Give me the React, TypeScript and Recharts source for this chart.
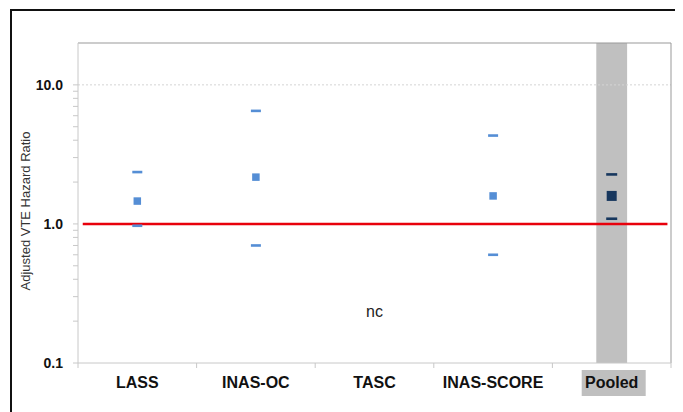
import React from 'react';
import { ComposedChart, Scatter, XAxis, YAxis, ReferenceLine, ReferenceArea } from 'recharts';

const categories = ['LASS', 'INAS-OC', 'TASC', 'INAS-SCORE', 'Pooled'];
const categoryPos = [0.5, 1.5, 2.5, 3.5, 4.5];
const pointHR: (number | null)[] = [1.46, 2.17, null, 1.59, 1.59];
const upperCI: (number | null)[] = [2.36, 6.5, null, 4.32, 2.27];
const lowerCI: (number | null)[] = [0.97, 0.7, null, 0.6, 1.09];
const pooledFlags = [false, false, false, false, true];
const notComputedLabels = [{ category: 'TASC', text: 'nc', y: 0.235 }];
const yMajorTicks = [0.1, 1, 10];
const yMinorTicks = [0.2, 0.3, 0.4, 0.5, 0.6, 0.7, 0.8, 0.9, 2, 3, 4, 5, 6, 7, 8, 9];
const xTicks = [0, 0.5, 1, 1.5, 2, 2.5, 3, 3.5, 4, 4.5, 5];
const yDomain = [0.1, 20];
const referenceHR = 1;
const gridHR = 10;
const pooledBand = [4.37, 4.63];

const FONT = '"Liberation Sans", Arial, sans-serif';
const BLUE = '#558ED5';
const NAVY = '#17375E';

const build = (vals: (number | null)[]) =>
  categories
    .map((c, i) => ({ name: c, x: categoryPos[i], y: vals[i], pooled: pooledFlags[i] }))
    .filter((d) => d.y != null);

const pointData = build(pointHR);
const upperData = build(upperCI);
const lowerData = build(lowerCI);
const ncData = notComputedLabels.map((n) => ({
  x: categoryPos[categories.indexOf(n.category)],
  y: n.y,
  text: n.text,
}));

const SquareShape = (props: any) => {
  const { cx, cy, payload } = props;
  if (cx == null || cy == null) return <g />;
  const s = payload && payload.pooled ? 10 : 7.5;
  return <rect x={cx - s / 2} y={cy - s / 2} width={s} height={s} fill={payload && payload.pooled ? NAVY : BLUE} />;
};

const DashShape = (props: any) => {
  const { cx, cy, payload } = props;
  if (cx == null || cy == null) return <g />;
  const w = payload && payload.pooled ? 11 : 10;
  return <rect x={cx - w / 2} y={cy - 1.3} width={w} height={2.6} fill={payload && payload.pooled ? NAVY : BLUE} />;
};

const TextShape = (props: any) => {
  const { cx, cy, payload } = props;
  if (cx == null || cy == null) return <g />;
  return (
    <text x={cx} y={cy} textAnchor="middle" dominantBaseline="central" fontFamily={FONT} fontSize={16} fill="#222">
      {payload.text}
    </text>
  );
};

const YTick = (props: any) => {
  const { x, y, payload } = props;
  const v = payload.value;
  const major = yMajorTicks.includes(v);
  return (
    <g>
      <line x1={x - 5} x2={x} y1={y} y2={y} stroke="#c8c8c8" />
      {major && (
        <text x={x - 15} y={y} textAnchor="end" dominantBaseline="central" fontFamily={FONT} fontSize={14} fontWeight="bold" fill="#111">
          {v.toFixed(1)}
        </text>
      )}
    </g>
  );
};

const XTick = (props: any) => {
  const { x, y, payload } = props;
  const v = payload.value;
  if (Number.isInteger(v)) {
    return <line x1={x} x2={x} y1={y} y2={y + 5} stroke="#c8c8c8" />;
  }
  const idx = categoryPos.indexOf(v);
  if (idx < 0) return <g />;
  return (
    <g>
      {pooledFlags[idx] && <rect x={x - 30} y={y + 7} width={64} height={26} fill="#BFBFBF" />}
      <text x={x} y={y + 19} textAnchor="middle" dominantBaseline="central" fontFamily={FONT} fontSize={16} fontWeight="bold" fill="#111">
        {categories[idx]}
      </text>
    </g>
  );
};

const YTitle = (props: any) => {
  const vb = props.viewBox || { x: 0, y: 35, width: 70, height: 320 };
  const cx = vb.x + 17;
  const cy = vb.y + vb.height / 2 + 8;
  return (
    <text x={cx} y={cy} transform={`rotate(-90, ${cx}, ${cy})`} textAnchor="middle" dominantBaseline="central" fontFamily={FONT} fontSize={13} fill="#333">
      Adjusted VTE Hazard Ratio
    </text>
  );
};

export default function App() {
  return (
    <div style={{ position: 'relative', width: 675, height: 404, overflow: 'hidden' }}>
      <ComposedChart width={675} height={404} margin={{ top: 35, right: 12, bottom: 9, left: 0 }}>
        <XAxis
          dataKey="x"
          type="number"
          domain={[0, 5]}
          ticks={xTicks}
          interval={0}
          tickLine={false}
          tickSize={0}
          tickMargin={0}
          axisLine={{ stroke: '#c8c8c8' }}
          tick={<XTick />}
          height={40}
        />
        <YAxis
          dataKey="y"
          type="number"
          scale="log"
          domain={yDomain}
          allowDataOverflow
          ticks={[...yMajorTicks, ...yMinorTicks]}
          interval={0}
          tickLine={false}
          tickSize={0}
          tickMargin={0}
          axisLine={{ stroke: '#c8c8c8' }}
          tick={<YTick />}
          width={70}
          label={<YTitle />}
        />
        <ReferenceArea x1={pooledBand[0]} x2={pooledBand[1]} fill="#C0C0C0" fillOpacity={1} stroke="none" />
        <ReferenceLine y={gridHR} stroke="#d4d4d4" strokeDasharray="2 2" />
        <ReferenceLine y={yDomain[1]} stroke="#999" />
        <ReferenceLine x={5} stroke="#999" />
        <ReferenceLine
          segment={[{ x: 0.04, y: referenceHR }, { x: 4.97, y: referenceHR }]}
          stroke="#E8000B"
          strokeWidth={2.5}
        />
        <Scatter data={upperData} shape={<DashShape />} isAnimationActive={false} />
        <Scatter data={lowerData} shape={<DashShape />} isAnimationActive={false} />
        <Scatter data={pointData} shape={<SquareShape />} isAnimationActive={false} />
        <Scatter data={ncData} shape={<TextShape />} isAnimationActive={false} />
      </ComposedChart>
      <div
        style={{
          position: 'absolute',
          left: 2,
          top: 1,
          width: 900,
          height: 900,
          borderLeft: '2px solid #111',
          borderTop: '2px solid #111',
          pointerEvents: 'none',
        }}
      />
    </div>
  );
}
